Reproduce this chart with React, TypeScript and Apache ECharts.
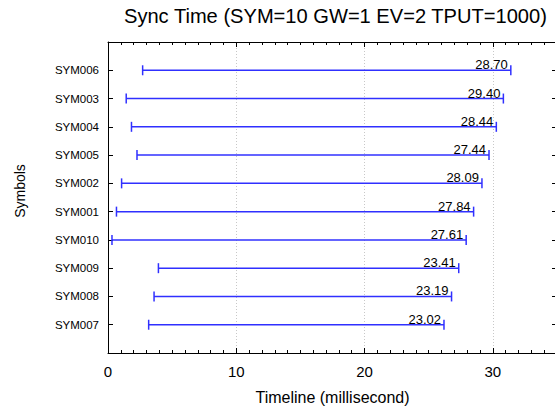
import React, { useEffect, useRef } from "react";
import * as echarts from "echarts";

const symbols = ["SYM007", "SYM008", "SYM009", "SYM010", "SYM001", "SYM002", "SYM005", "SYM004", "SYM003", "SYM006"];
const starts = [3.17, 3.59, 3.93, 0.31, 0.66, 1.06, 2.26, 1.83, 1.42, 2.7];
const durations = [23.02, 23.19, 23.41, 27.61, 27.84, 28.09, 27.44, 28.44, 29.4, 28.7];
const xTicks = [0, 10, 20, 30];

const FONT = "'Liberation Sans', Arial, Helvetica, sans-serif";
const BLUE = "#3030ff";

export default function App() {
  const ref = useRef<HTMLDivElement>(null);
  useEffect(() => {
    if (!ref.current) return;
    const chart = echarts.init(ref.current, undefined, { renderer: "svg" });
    const data = symbols.map((s, i) => [starts[i], starts[i] + durations[i], i + 1, durations[i]]);
    const grid = { left: 108, top: 42, width: 449, height: 311, outerBoundsMode: "none", containLabel: false };
    const majorX = (pos: string, labels: boolean) => ({
      type: "value",
      position: pos,
      min: 0,
      max: 35,
      interval: 10,
      axisLine: { show: true, onZero: false, lineStyle: { color: "#000", width: 1 } },
      axisTick: { show: true, inside: true, length: 5, lineStyle: { color: "#000" } },
      axisLabel: {
        show: labels,
        fontSize: 15,
        color: "#000",
        fontFamily: FONT,
        margin: 11,
        formatter: (v: number) => (xTicks.includes(v) ? String(v) : ""),
      },
      splitLine: { show: labels, lineStyle: { type: [1, 2], color: "#c8c8c8", width: 1 } },
      ...(labels
        ? {
            name: "Timeline (millisecond)",
            nameLocation: "middle",
            nameGap: 36,
            nameTextStyle: { fontSize: 16, color: "#000", fontFamily: FONT },
          }
        : {}),
    });
    const minorX = (pos: string) => ({
      type: "value",
      position: pos,
      min: 0,
      max: 35,
      interval: 1,
      axisLine: { show: false, onZero: false },
      axisTick: { show: true, inside: true, length: 3, lineStyle: { color: "#000" } },
      axisLabel: { show: false },
      splitLine: { show: false },
    });
    const yAx = (pos: string, labels: boolean) => ({
      type: "value",
      position: pos,
      min: 0,
      max: 11,
      interval: 1,
      axisLine: { show: true, onZero: false, lineStyle: { color: "#000", width: 1 } },
      axisTick: { show: true, inside: true, length: 5, lineStyle: { color: "#000" } },
      axisLabel: {
        show: labels,
        fontSize: 11.5,
        color: "#000",
        fontFamily: FONT,
        margin: 9,
        formatter: (v: number) => (v >= 1 && v <= symbols.length ? symbols[v - 1] : ""),
      },
      splitLine: { show: false },
    });
    chart.setOption({
      animation: false,
      backgroundColor: "#fff",
      title: {
        text: "Sync Time (SYM=10 GW=1 EV=2 TPUT=1000)",
        left: 124,
        top: 6,
        padding: 0,
        textStyle: { fontSize: 20.1, fontWeight: "normal", color: "#000", fontFamily: FONT },
      },
      grid,
      xAxis: [majorX("bottom", true), minorX("bottom"), majorX("top", false), minorX("top")],
      yAxis: [yAx("left", true), yAx("right", false)],
      graphic: [
        {
          type: "text",
          x: 20,
          y: 191,
          rotation: Math.PI / 2,
          style: {
            text: "Symbols",
            fontSize: 14,
            fontFamily: FONT,
            fill: "#000",
            align: "center",
            verticalAlign: "middle",
          },
        },
      ],
      series: [
        {
          type: "custom",
          xAxisIndex: 0,
          yAxisIndex: 0,
          encode: { x: [0, 1], y: 2 },
          data,
          renderItem: (params: any, api: any) => {
            const s = api.coord([api.value(0), api.value(2)]);
            const e = api.coord([api.value(1), api.value(2)]);
            const dur = api.value(3) as number;
            const st = { stroke: BLUE, lineWidth: 1.5 };
            return {
              type: "group",
              children: [
                { type: "line", shape: { x1: s[0], y1: s[1], x2: e[0], y2: e[1] }, style: st },
                { type: "line", shape: { x1: s[0], y1: s[1] - 5, x2: s[0], y2: s[1] + 5 }, style: st },
                { type: "line", shape: { x1: e[0], y1: e[1] - 5, x2: e[0], y2: e[1] + 5 }, style: st },
                {
                  type: "text",
                  style: {
                    text: dur.toFixed(2),
                    x: e[0] - 3,
                    y: e[1] + 1,
                    align: "right",
                    verticalAlign: "bottom",
                    fontSize: 13,
                    fontFamily: FONT,
                    fill: "#000",
                  },
                },
              ],
            };
          },
        },
      ],
    });
    return () => chart.dispose();
  }, []);
  return <div ref={ref} style={{ position: "absolute", left: 0, top: 0, width: 555, height: 407 }} />;
}
